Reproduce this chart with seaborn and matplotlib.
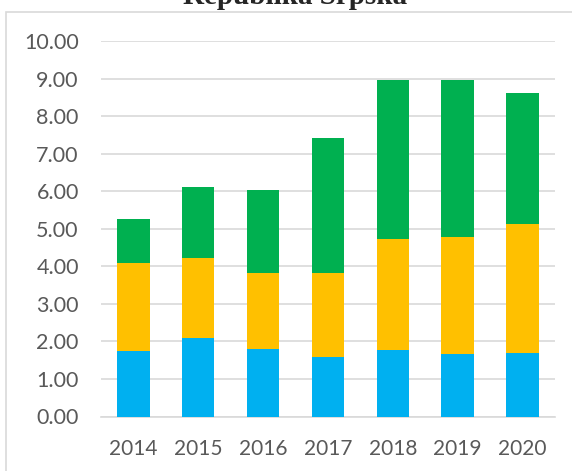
import numpy as np
import pandas as pd
import matplotlib
matplotlib.use('Agg')
import matplotlib.pyplot as plt
import seaborn as sns
from matplotlib.patches import Rectangle

# values
years = ['2014', '2015', '2016', '2017', '2018', '2019', '2020']
blue = [1.74, 2.08, 1.79, 1.58, 1.78, 1.66, 1.69]
yellow = [2.34, 2.14, 2.03, 2.24, 2.95, 3.13, 3.44]
green = [1.19, 1.89, 2.20, 3.59, 4.22, 4.16, 3.48]
title = 'Republika Srpska'

colors = {'blue': '#00B0F0', 'yellow': '#FFC000', 'green': '#00B050'}

df = pd.DataFrame({'year': years, 'blue': blue, 'yellow': yellow, 'green': green})
# cumulative tops for stacking, drawn tallest first
df['top_blue'] = df['blue']
df['top_yellow'] = df['blue'] + df['yellow']
df['top_green'] = df['top_yellow'] + df['green']

sns.set_style('white')
plt.rcParams['font.family'] = ['Lato', 'DejaVu Sans']

fig = plt.figure(figsize=(5.72, 4.71), dpi=100)
ax = fig.add_axes([101 / 572, 1 - 416.5 / 471, (555 - 101) / 572, (416.5 - 41) / 471])

for key in ['green', 'yellow', 'blue']:
    sns.barplot(data=df, x='year', y='top_' + key, order=years, color=colors[key],
                width=0.5, saturation=1, ax=ax, zorder=3, linewidth=0)

ax.set_ylim(0, 10)
ax.set_xlim(-0.5, len(years) - 0.5)
ax.set_yticks(np.arange(0, 11, 1))
ax.set_yticklabels([f'{v:.2f}' for v in np.arange(0, 11, 1)])
ax.grid(axis='y', color='#D9D9D9', linewidth=1.2, zorder=0)
ax.set_axisbelow(True)
for s in ['top', 'right', 'left']:
    ax.spines[s].set_visible(False)
ax.spines['bottom'].set_color('#D9D9D9')
ax.spines['bottom'].set_linewidth(1.2)
ax.tick_params(axis='y', length=0, pad=16, labelsize=15.5, labelcolor='#595959')
ax.tick_params(axis='x', length=0, pad=16, labelsize=15, labelcolor='#595959')
ax.set_xlabel('')
ax.set_ylabel('')

# chart frame (only top and left edges fall inside the image)
fig.patches.append(Rectangle((6 / 572, -0.2), 1.2, 1.2 - 12 / 471,
                             transform=fig.transFigure, fill=False,
                             edgecolor='#D9D9D9', linewidth=1.2))

# title is clipped by the top edge, as in the reference
fig.text(295 / 572, 1 - 4.5 / 471, title, ha='center', va='baseline',
         fontsize=21, fontweight='bold', family=['Liberation Serif', 'DejaVu Serif'])

fig.savefig('out.png', dpi=100)
